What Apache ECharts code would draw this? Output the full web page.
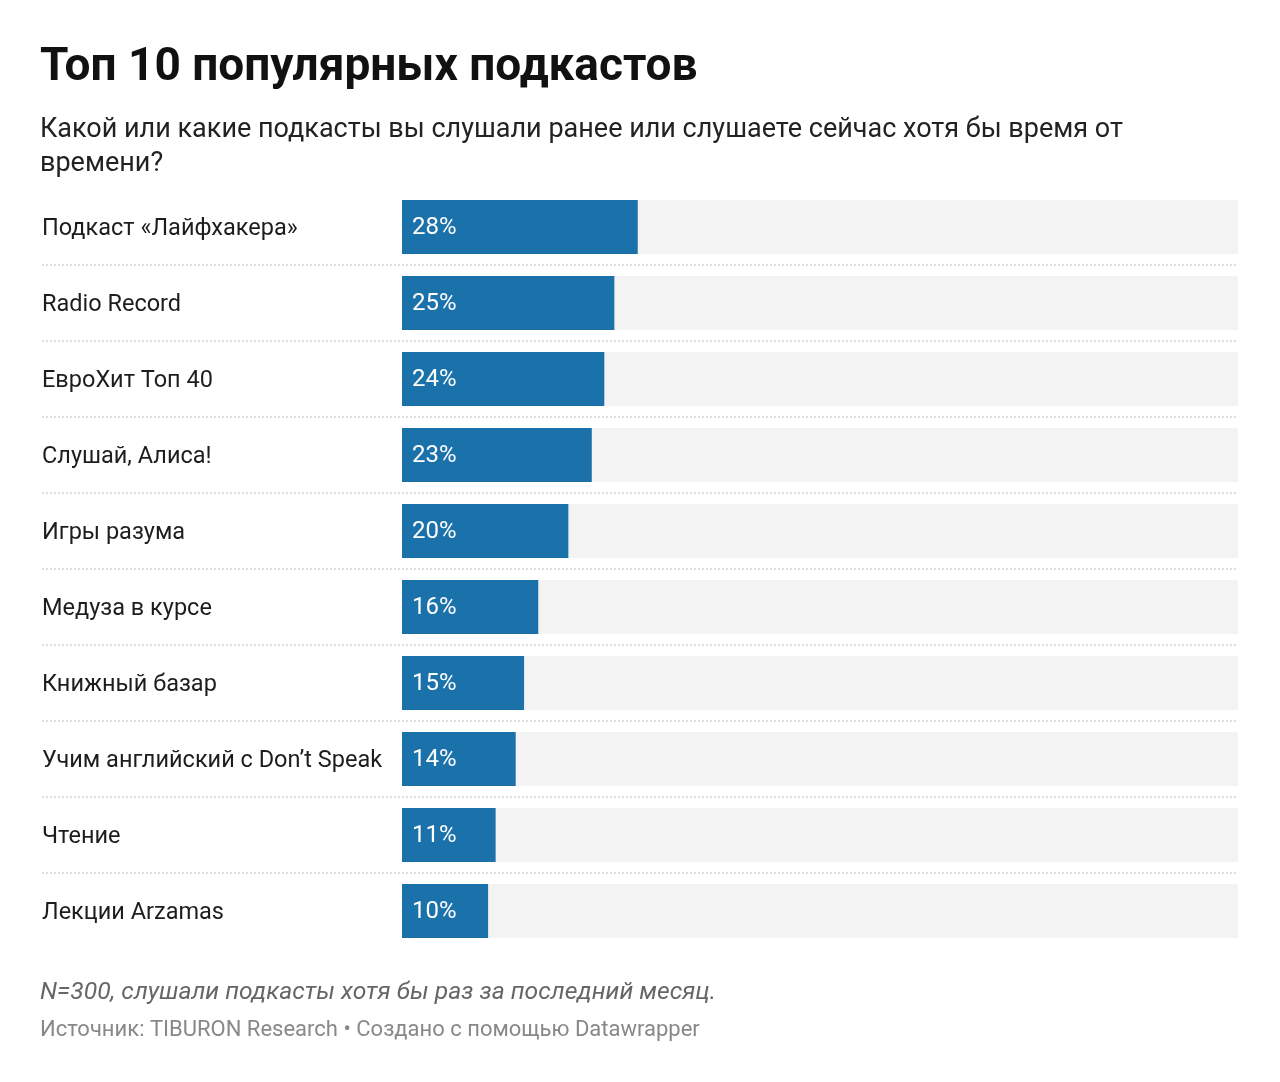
<!DOCTYPE html>
<html>
<head>
<meta charset="utf-8">
<style>
  html, body { margin: 0; padding: 0; background: #fff; }
  #chart { width: 1280px; height: 1082px; }
</style>
<script src="https://cdn.jsdelivr.net/npm/echarts@6/dist/echarts.min.js"></script>
</head>
<body>
<div id="chart"></div>
<script>
// подкасты и доли слушателей (%)
var podcasts = ['Подкаст «Лайфхакера»', 'Radio Record', 'ЕвроХит Топ 40', 'Слушай, Алиса!', 'Игры разума',
                'Медуза в курсе', 'Книжный базар', 'Учим английский с Don’t Speak', 'Чтение', 'Лекции Arzamas'];
var shares = [28.2, 25.4, 24.2, 22.7, 19.9, 16.3, 14.6, 13.6, 11.2, 10.3];

var titleText = 'Топ 10 популярных подкастов';
var subtitleText = 'Какой или какие подкасты вы слушали ранее или слушаете сейчас хотя бы время от\nвремени?';
var noteText = 'N=300, слушали подкасты хотя бы раз за последний месяц.';
var sourceText = 'Источник: TIBURON Research • Создано с помощью Datawrapper';

var font = 'Roboto, "Noto Sans", sans-serif';

// разделители между строками
var separators = [];
for (var i = 0; i < podcasts.length - 1; i++) {
    separators.push([100, i]);
}

var chart = echarts.init(document.getElementById('chart'));

chart.setOption({
    animation: false,
    title: [{
        text: titleText,
        left: 40, top: 45, padding: 0,
        textStyle: { fontFamily: font, fontSize: 46, fontWeight: 'bold', color: '#111', lineHeight: 46 }
    }, {
        text: subtitleText,
        left: 40, top: 113, padding: 0,
        textStyle: { fontFamily: font, fontSize: 27, fontWeight: 'normal', color: '#222', lineHeight: 34 }
    }, {
        text: noteText,
        left: 40, top: 981, padding: 0,
        textStyle: { fontFamily: font, fontSize: 24.7, fontStyle: 'italic', fontWeight: 'normal', color: '#666', lineHeight: 24 }
    }, {
        text: sourceText,
        left: 40, top: 1019, padding: 0,
        textStyle: { fontFamily: font, fontSize: 22, fontWeight: 'normal', color: '#888', lineHeight: 22 }
    }],
    grid: { left: 402, right: 42, top: 189, height: 760 },
    xAxis: {
        type: 'value', min: 0, max: 100, show: false
    },
    yAxis: {
        type: 'category',
        data: podcasts,
        inverse: true,
        axisLine: { show: false },
        axisTick: { show: false },
        splitLine: { show: false },
        axisLabel: {
            align: 'left',
            verticalAlign: 'top',
            lineHeight: 5,
            margin: 360,
            fontFamily: font,
            fontSize: 23.5,
            color: '#1d1d1d'
        }
    },
    series: [{
        type: 'custom',
        clip: false,
        silent: true,
        data: separators,
        encode: { x: 0, y: 1 },
        renderItem: function (params, api) {
            var idx = api.value(1);
            var band = api.size([0, 1])[1];
            var y = Math.round(api.coord([0, idx])[1] + band / 2);
            var x2 = api.coord([api.value(0), idx])[0];
            return {
                type: 'line',
                shape: { x1: 42, y1: y, x2: x2, y2: y },
                style: { stroke: '#dddddd', lineWidth: 2, lineDash: [2, 2] }
            };
        }
    }, {
        type: 'bar',
        data: shares,
        barCategoryGap: '29%',
        itemStyle: { color: '#1b72ab' },
        showBackground: true,
        backgroundStyle: { color: '#f3f3f3' },
        label: {
            show: true,
            position: 'insideLeft',
            distance: 10,
            offset: [0, 1],
            fontFamily: font,
            fontSize: 24,
            color: '#fff',
            formatter: function (p) { return Math.round(p.value) + '%'; }
        }
    }]
});
</script>
</body>
</html>
